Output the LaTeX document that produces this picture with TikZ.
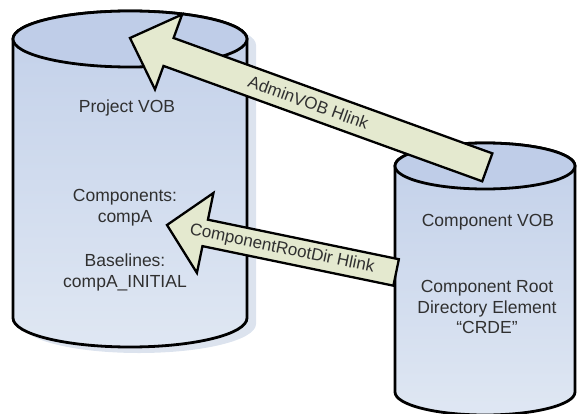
\documentclass[tikz,border=0pt]{standalone}
\usepackage{fontspec}
\setmainfont{Liberation Sans}
\definecolor{vobcap}{HTML}{BFCDE8}
\definecolor{vobupper}{HTML}{C2D0E9}
\definecolor{voblower}{HTML}{DFE7F3}
\definecolor{vobshade}{HTML}{DCE3EE}
\definecolor{linkfill}{HTML}{E4E9CF}
\definecolor{inkgray}{HTML}{303030}

\begin{document}
\begin{tikzpicture}[
    x=1pt, y=1pt,
    font=\fontsize{17.5}{20.5}\selectfont,
    every node/.style={align=center, text=inkgray, inner sep=0pt},
    vob/.style={
        draw=black, line width=2.8pt, line join=round,
        top color=vobupper, bottom color=voblower
    },
    vobtop/.style={draw=black, line width=2.8pt, fill=vobcap},
    shadow/.style={fill=vobshade},
    hlink/.style={draw=black, line width=2.3pt, line join=miter, fill=linkfill},
    linklabel/.style={font=\fontsize{17}{20}\selectfont}
]
\useasboundingbox (0,0) rectangle (577,413);

% project VOB
\path[shadow] (22,368) -- (22,89) arc (180:360:117 and 29) -- (256,368) arc (0:180:117 and 28) -- cycle;
\path[vob] (13,374) -- (13,95) arc (180:360:117 and 29) -- (247,374) arc (0:180:117 and 28) -- cycle;
\draw[vobtop] (130,374) ellipse (117 and 28);

% component VOB
\path[vob] (395,247) -- (395,21) arc (180:360:90 and 23) -- (575,247) arc (0:180:90 and 23) -- cycle;
\draw[vobtop] (485,247) ellipse (90 and 23);

\node (project)   at (127,305)   {Project VOB};
\node (contents)  at (125,205.5) {Components:\\compA};
\node (baselines) at (125,140.5) {Baselines:\\compA\_INITIAL};
\node (compvob)   at (488,191)   {Component VOB};
\node (crde)      at (487,106)   {Component Root\\Directory Element\\“CRDE”};

% hyperlinks
\begin{scope}[shift={(130,375)}, rotate=-19.9]
    \draw[hlink] (0,0) -- (41,39.85) -- (41,14.85) -- (380,14.85) -- (380,-14.85)
        -- (41,-14.85) -- (41,-39.85) -- cycle;
\end{scope}
\node[linklabel, rotate=-19.9] (adminlink) at (308.5,310.5) {AdminVOB Hlink};

\begin{scope}[shift={(167,188)}, rotate=-11.7]
    \draw[hlink] (0,0) -- (39,40.8) -- (39,13.5) -- (234,13.5) -- (234,-13.5)
        -- (39,-13.5) -- (39,-40.8) -- cycle;
\end{scope}
\node[linklabel, rotate=-11.7] (rootlink) at (282,164) {ComponentRootDir Hlink};

\end{tikzpicture}
\end{document}
